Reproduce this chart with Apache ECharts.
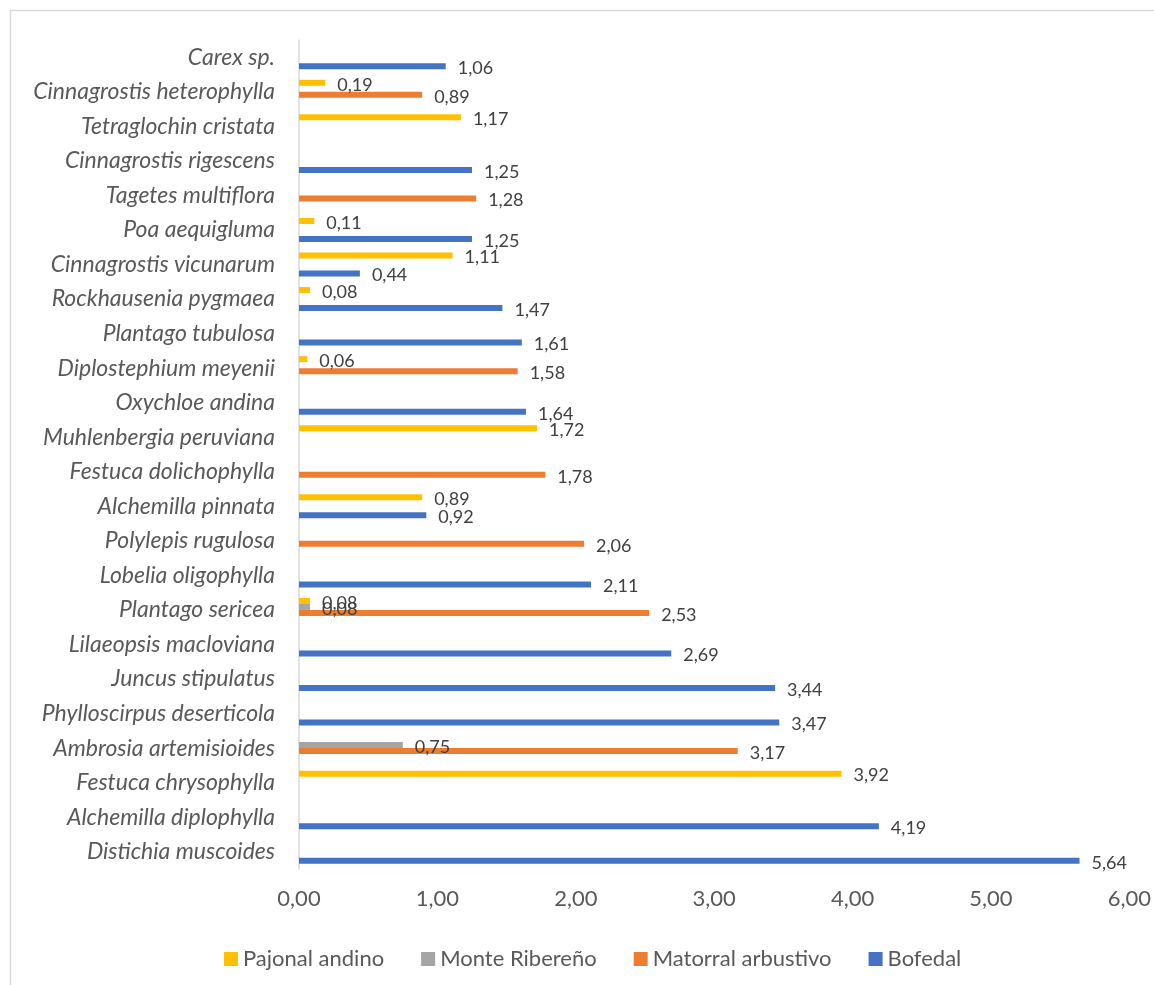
<!DOCTYPE html>
<html>
<head>
<meta charset="utf-8">
<script src="https://cdn.jsdelivr.net/npm/echarts@6/dist/echarts.min.js"></script>
<style>
html,body{margin:0;padding:0;background:#fff;}
#chart{width:1154px;height:985px;}
</style>
</head>
<body>
<div id="chart"></div>
<script>
const categories = [
  'Carex sp.',
  'Cinnagrostis heterophylla',
  'Tetraglochin cristata',
  'Cinnagrostis rigescens',
  'Tagetes multiflora',
  'Poa aequigluma',
  'Cinnagrostis vicunarum',
  'Rockhausenia pygmaea',
  'Plantago tubulosa',
  'Diplostephium meyenii',
  'Oxychloe andina',
  'Muhlenbergia peruviana',
  'Festuca dolichophylla',
  'Alchemilla pinnata',
  'Polylepis rugulosa',
  'Lobelia oligophylla',
  'Plantago sericea',
  'Lilaeopsis macloviana',
  'Juncus stipulatus',
  'Phylloscirpus deserticola',
  'Ambrosia artemisioides',
  'Festuca chrysophylla',
  'Alchemilla diplophylla',
  'Distichia muscoides'
];
const seriesNames = ['Pajonal andino', 'Monte Ribereño', 'Matorral arbustivo', 'Bofedal'];
const pajonalAndino = [null,0.19,1.17,null,null,0.11,1.11,0.08,null,0.06,null,1.72,null,0.89,null,null,0.08,null,null,null,null,3.92,null,null];
const monteRibereno = [null,null,null,null,null,null,null,null,null,null,null,null,null,null,null,null,0.08,null,null,null,0.75,null,null,null];
const matorralArbustivo = [null,0.89,null,null,1.28,null,null,null,null,1.58,null,null,1.78,null,2.06,null,2.53,null,null,null,3.17,null,null,null];
const bofedal = [1.06,null,null,1.25,null,1.25,0.44,1.47,1.61,null,1.64,null,null,0.92,null,2.11,null,2.69,3.44,3.47,null,null,4.19,5.64];
const xTicks = [0, 1, 2, 3, 4, 5, 6];

const colors = ['#FFC000', '#A5A5A5', '#ED7D31', '#4472C4'];
const FONT = 'Lato';
const fmt = v => Number(v).toFixed(2).replace('.', ',');

const allData = [pajonalAndino, monteRibereno, matorralArbustivo, bofedal];

const chart = echarts.init(document.getElementById('chart'), null, {renderer: 'canvas'});
chart.setOption({
  animation: false,
  backgroundColor: '#ffffff',
  graphic: [{
    type: 'rect',
    shape: {x: 10.5, y: 10.5, width: 1200, height: 1000},
    style: {fill: 'none', stroke: '#D9D9D9', lineWidth: 1.5},
    silent: true
  }],
  grid: {left: 299, right: 23, top: 40, bottom: 116, containLabel: false},
  legend: {
    data: seriesNames,
    left: 219,
    top: 943,
    itemWidth: 14,
    itemHeight: 14,
    itemGap: 37,
    icon: 'rect',
    textStyle: {fontFamily: FONT, fontSize: 22, color: '#595959'}
  },
  xAxis: {
    type: 'value',
    min: xTicks[0],
    max: xTicks[xTicks.length - 1],
    interval: 1,
    axisLine: {show: false},
    axisTick: {show: false},
    splitLine: {show: false},
    axisLabel: {
      formatter: fmt,
      fontFamily: FONT,
      fontSize: 22,
      color: '#595959',
      margin: 19
    }
  },
  yAxis: {
    type: 'category',
    data: categories,
    inverse: true,
    axisLine: {show: true, lineStyle: {color: '#D9D9D9', width: 1.5}},
    axisTick: {show: false},
    axisLabel: {
      fontFamily: FONT,
      fontStyle: 'italic',
      fontSize: 23,
      color: '#595959',
      margin: 24,
      interval: 0
    }
  },
  series: seriesNames.map((name, i) => ({
    name: name,
    type: 'bar',
    data: allData[i],
    barWidth: 6,
    barGap: '0%',
    itemStyle: {color: colors[i]},
    label: {
      show: true,
      position: 'right',
      distance: 12,
      offset: [0, 2],
      formatter: p => fmt(p.value),
      fontFamily: FONT,
      fontSize: 18,
      color: '#404040'
    }
  }))
});
</script>
</body>
</html>
